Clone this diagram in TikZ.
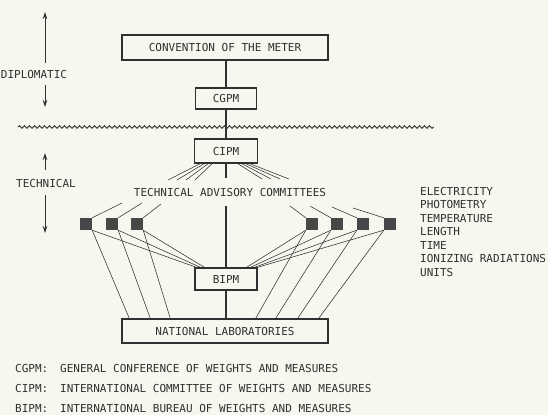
\documentclass[tikz,border=0pt]{standalone}
\usepackage{fontspec}
\usetikzlibrary{arrows.meta,decorations.pathmorphing}
\newfontfamily\typefont{DejaVu Sans Mono}
\definecolor{paper}{RGB}{247,247,240}
\definecolor{ink}{RGB}{48,48,48}
\tikzset{
  typed/.style={font=\typefont\fontsize{11}{13.5}\selectfont, text=ink, inner sep=0pt},
  orgbox/.style={typed, draw=ink, line width=1.5pt, fill=paper},
  committee/.style={fill=black!72, minimum size=12pt, inner sep=0pt},
  trunk/.style={draw=ink, line width=1.5pt},
  link/.style={draw=ink, line width=0.55pt},
  spanarrow/.style={draw=ink, line width=0.8pt, -{Stealth[length=7pt,width=4.5pt]}},
}

\begin{document}
\begin{tikzpicture}[x=1pt,y=-1pt]
\fill[paper] (0,0) rectangle (548,415);
\useasboundingbox (0,0) rectangle (548,415);

% organisation
\node[orgbox, minimum width=206pt, minimum height=25pt] (conv) at (225,47.5) {CONVENTION OF THE METER};
\node[orgbox, minimum width=61pt, minimum height=21pt] (cgpm) at (226,98.5) {CGPM};
\node[orgbox, minimum width=63pt, minimum height=24pt] (cipm) at (226,151) {CIPM};
\node[typed, outer ysep=9.5pt] (tac) at (230,192) {TECHNICAL ADVISORY COMMITTEES};
\node[orgbox, minimum width=62pt, minimum height=22pt] (bipm) at (226,279) {BIPM};
\node[orgbox, minimum width=206pt, minimum height=24pt] (lab) at (225,331) {NATIONAL LABORATORIES};

% diplomatic / technical split
\coordinate (waveL) at (18,127);
\coordinate (waveR) at (434,127);
\draw[ink, line width=0.9pt, decorate, decoration={snake, segment length=5pt, amplitude=1.3pt}] (waveL) -- (waveR);

\draw[trunk] (cgpm |- conv.south) -- (cgpm);
\draw[trunk] (cgpm) -- (cipm);
\draw[trunk] (cipm) -- (cipm |- tac.north);
\draw[trunk] (bipm |- tac.south) -- (bipm);
\draw[trunk] (bipm) -- (bipm |- lab.north);

% fan from CIPM to the committees
\foreach \i/\s/\x in {1/-26/168, 2/-22/177, 3/-18/186, 4/-14/195}{
  \coordinate (fanL\i) at (\x,180);
  \draw[link] ([xshift=\s]cipm.south) -- (fanL\i);
}
\foreach \i/\s/\x in {1/12/262, 2/16/271, 3/20/280, 4/24/289}{
  \coordinate (fanR\i) at (\x,179);
  \draw[link] ([xshift=\s]cipm.south) -- (fanR\i);
}

% committees
\node[committee] (sq1) at (86,224) {};
\node[committee] (sq2) at (112,224) {};
\node[committee] (sq3) at (137,224) {};
\node[committee] (sq4) at (312,224) {};
\node[committee] (sq5) at (337,224) {};
\node[committee] (sq6) at (363,224) {};
\node[committee] (sq7) at (390,224) {};

\coordinate (up1) at (122,203);
\coordinate (up2) at (142,203);
\coordinate (up3) at (161,204);
\coordinate (up4) at (290,206);
\coordinate (up5) at (310,206);
\coordinate (up6) at (332,207);
\coordinate (up7) at (353,208);
\foreach \i in {1,2,3} \draw[link] (sq\i.north east) -- (up\i);
\foreach \i in {4,5,6,7} \draw[link] (sq\i.north west) -- (up\i);

% committees to BIPM and laboratories
\foreach \i/\b/\l in {1/2/8, 2/6/29, 3/10/49}{
  \draw[link] (sq\i.south east) -- ([xshift=\b]bipm.north west);
  \draw[link] (sq\i.south east) -- ([xshift=\l]lab.north west);
}
\foreach \i/\b/\l in {4/-11/-73, 5/-7/-53, 6/-3/-31, 7/0/-10}{
  \draw[link] (sq\i.south west) -- ([xshift=\b]bipm.north east);
  \draw[link] (sq\i.south west) -- ([xshift=\l]lab.north east);
}

% side labels
\node[typed] (dipl) at (34,74) {DIPLOMATIC};
\node[typed] (tech) at (46,183) {TECHNICAL};
\coordinate (dipA) at (45,63);
\coordinate (dipB) at (45,12);
\coordinate (dipC) at (45,85);
\coordinate (dipD) at (45,107);
\coordinate (techA) at (45,170);
\coordinate (techB) at (45,153);
\coordinate (techC) at (45,195);
\coordinate (techD) at (45,233);
\draw[spanarrow] (dipA) -- (dipB);
\draw[spanarrow] (dipC) -- (dipD);
\draw[spanarrow] (techA) -- (techB);
\draw[spanarrow] (techC) -- (techD);

% fields
\foreach \f [count=\i] in {ELECTRICITY, PHOTOMETRY, TEMPERATURE, LENGTH, TIME, IONIZING RADIATIONS, UNITS}
  \node[typed, anchor=base west] (field\i) at (420,{195+13.5*(\i-1)}) {\f};

% key
\node[typed, anchor=base west] (key1) at (15,372) {CGPM:};
\node[typed, anchor=base west] (def1) at (60,372) {GENERAL CONFERENCE OF WEIGHTS AND MEASURES};
\node[typed, anchor=base west] (key2) at (15,392) {CIPM:};
\node[typed, anchor=base west] (def2) at (60,392) {INTERNATIONAL COMMITTEE OF WEIGHTS AND MEASURES};
\node[typed, anchor=base west] (key3) at (15,412) {BIPM:};
\node[typed, anchor=base west] (def3) at (60,412) {INTERNATIONAL BUREAU OF WEIGHTS AND MEASURES};
\end{tikzpicture}
\end{document}
